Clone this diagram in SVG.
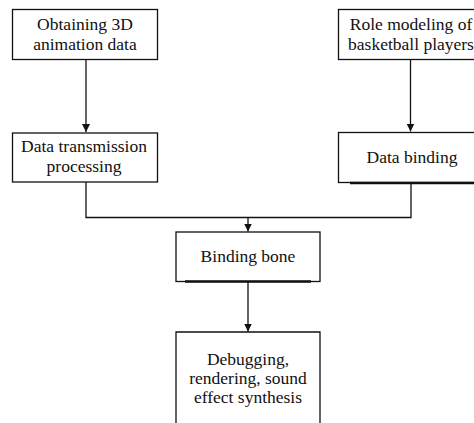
<svg xmlns="http://www.w3.org/2000/svg" width="474" height="423" viewBox="0 0 474 423">
  <style>
    .box { fill: #ffffff; stroke: #111111; stroke-width: 1.3; }
    .edge { fill: none; stroke: #111111; stroke-width: 1.3; }
    .heavy { fill: none; stroke: #111111; stroke-width: 2.4; }
    .label { font-family: "Liberation Serif", "Times New Roman", serif; font-size: 17.5px; fill: #111111; text-anchor: middle; }
  </style>
  <defs>
    <marker id="arrow" viewBox="0 0 10 10" refX="10" refY="5" markerWidth="8" markerHeight="8" markerUnits="userSpaceOnUse" orient="auto">
      <path d="M0,0 L10,5 L0,10 z" fill="#111111"/>
    </marker>
  </defs>
  <rect width="474" height="423" fill="#ffffff"/>

  <g id="connectors">
    <line class="edge" x1="86" y1="59" x2="86" y2="132" marker-end="url(#arrow)"/>
    <line class="edge" x1="410.5" y1="59" x2="410.5" y2="131.5" marker-end="url(#arrow)"/>
    <polyline class="edge" points="86,182 86,217.5 411,217.5 411,183"/>
    <line class="edge" x1="248" y1="217.5" x2="248" y2="231.5" marker-end="url(#arrow)"/>
    <line class="edge" x1="248" y1="282" x2="248" y2="331.5" marker-end="url(#arrow)"/>
  </g>

  <g id="obtaining-data">
    <rect class="box" x="12.5" y="9.5" width="145" height="50"/>
    <text class="label" x="85" y="30">Obtaining 3D</text>
    <text class="label" x="85" y="50">animation data</text>
  </g>

  <g id="role-modeling">
    <rect class="box" x="338.5" y="9.5" width="146" height="50"/>
    <text class="label" x="411" y="30">Role modeling of</text>
    <text class="label" x="411" y="50">basketball players</text>
  </g>

  <g id="data-transmission">
    <rect class="box" x="12.5" y="133" width="145" height="49"/>
    <text class="label" x="84" y="152">Data transmission</text>
    <text class="label" x="84" y="172">processing</text>
  </g>

  <g id="data-binding">
    <rect class="box" x="338.5" y="132.5" width="146" height="50"/>
    <line class="heavy" x1="350" y1="183" x2="474" y2="183"/>
    <text class="label" x="412" y="163">Data binding</text>
  </g>

  <g id="binding-bone">
    <rect class="box" x="176" y="232" width="144" height="49.5"/>
    <line class="heavy" x1="185" y1="281.5" x2="311" y2="281.5"/>
    <text class="label" x="248" y="262">Binding bone</text>
  </g>

  <g id="debugging">
    <polyline class="box" points="176,424 176,332 320,332 320,424"/>
    <text class="label" x="248" y="365">Debugging,</text>
    <text class="label" x="248" y="384">rendering, sound</text>
    <text class="label" x="248" y="403">effect synthesis</text>
  </g>
</svg>
